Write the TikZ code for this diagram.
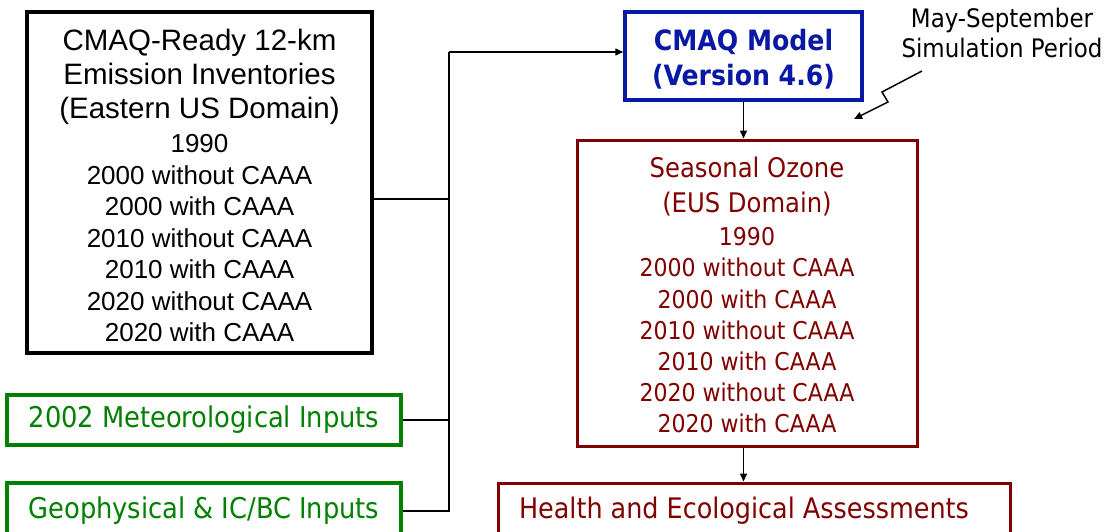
\documentclass[tikz,border=0pt]{standalone}
\usepackage{fontspec}
\setmainfont{Liberation Sans}
\newfontfamily\tahoma{DejaVu Sans Condensed}
\usepackage{xcolor}
\usetikzlibrary{arrows.meta}
\definecolor{cmaqblue}{RGB}{10,25,165}
\definecolor{inpgreen}{RGB}{0,128,0}
\definecolor{ozred}{RGB}{128,0,0}
\newcommand\emhead{\fontsize{29.5}{34}\selectfont}
\newcommand\ozhead{\fontsize{27}{35}\selectfont}

\tikzset{
  box/.style={draw, rectangle, align=center, inner sep=0pt, line width=3.5pt},
  emisbox/.style={box, black, minimum width=345pt, minimum height=341pt},
  inpbox/.style={box, inpgreen, text=inpgreen, minimum width=394pt,
    font=\tahoma\fontsize{28.6}{34}\selectfont},
  ozbox/.style={box, ozred, text=ozred, line width=3pt},
  link/.style={line width=1.5pt, black},
}

\begin{document}
\begin{tikzpicture}[x=1pt,y=-1pt,>={Triangle[length=8pt,width=7pt]}]
  \useasboundingbox (0,0) rectangle (1111,531);

  % input side
  \node[emisbox, font=\fontsize{26}{31.5}\selectfont] (emis) at (199.5,182.5)
    {\rule{0pt}{27.5pt}\emhead CMAQ-Ready 12-km\\[2.5pt] \emhead Emission Inventories\\[2.5pt]
     \emhead (Eastern US Domain)\\[2.5pt]
     1990\\ 2000 without CAAA\\ 2000 with CAAA\\ 2010 without CAAA\\ 2010 with CAAA\\
     2020 without CAAA\\ 2020 with CAAA};
  \node[inpbox, minimum height=50pt] (met) at (204,420) {2002 Meteorological Inputs};
  \node[inpbox, minimum height=56pt] (geo) at (204,511) {Geophysical \& IC/BC Inputs};

  % model and outputs
  \node[box, cmaqblue, minimum width=237pt, minimum height=88pt,
    font=\tahoma\bfseries\fontsize{28}{35}\selectfont] (cmaq) at (743.5,56)
    {\rule{0pt}{27pt}CMAQ Model\\ (Version 4.6)};
  \node[ozbox, minimum width=340pt, minimum height=306pt,
    font=\tahoma\fontsize{24.5}{31.2}\selectfont] (ozone) at (747,293)
    {\rule{0pt}{25pt}\ozhead Seasonal Ozone\\[3.5pt] \ozhead (EUS Domain)\\[2pt]
     1990\\ 2000 without CAAA\\ 2000 with CAAA\\ 2010 without CAAA\\ 2010 with CAAA\\
     2020 without CAAA\\ 2020 with CAAA};
  \node[ozbox, minimum width=512pt, minimum height=56pt,
    font=\tahoma\fontsize{28.3}{34}\selectfont] (health) at (754,511)
    {\hspace*{-20pt}Health and Ecological Assessments};
  \node[align=center, font=\tahoma\fontsize{25.5}{30}\selectfont] (period) at (1002,33)
    {May-September\\ Simulation Period};

  % connectors
  \coordinate (bus top) at (449,52);
  \coordinate (bus bot) at (449,511);
  \coordinate (emis out) at (372,199);
  \draw[link] (emis out) -- (emis out -| bus top);
  \draw[link] (met.east) -- (met.east -| bus top);
  \draw[link] (geo.east) -- (bus bot) -- (bus top);
  \draw[link,->] (bus top) -- (bus top -| cmaq.west);
  \draw[link,->] (cmaq.south) -- (cmaq.south |- ozone.north);
  \draw[link,->] (cmaq.south |- ozone.south) -- (cmaq.south |- health.north);

  % bolt from the period note
  \coordinate (bolt a) at (922,71);
  \coordinate (bolt b) at (882,92);
  \coordinate (bolt c) at (888,102);
  \coordinate (bolt d) at (854,119);
  \draw[link,->] (bolt a) -- (bolt b) -- (bolt c) -- (bolt d);
\end{tikzpicture}
\end{document}
